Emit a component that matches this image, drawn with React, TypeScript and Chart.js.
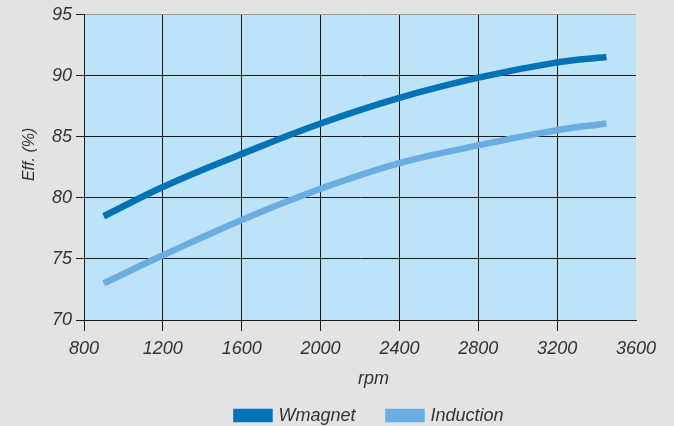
import React, { useEffect, useRef } from 'react';
import { Chart, registerables } from 'chart.js';

Chart.register(...registerables);

// ---- data ----
const rpm = [900, 1200, 1600, 2000, 2400, 2800, 3200, 3450];
const wmagnet = [78.5, 80.9, 83.6, 86.1, 88.2, 89.85, 91.1, 91.55];
const induction = [73.0, 75.3, 78.2, 80.75, 82.85, 84.3, 85.55, 86.1];
const seriesNames = ['Wmagnet', 'Induction'];
const xTitle = 'rpm';
const yTitle = 'Eff. (%)';
const xRange = [800, 3600];
const xStep = 400;
const yRange = [70, 95];
const yStep = 5;

const FONT = "'Liberation Sans', Arial, Helvetica, sans-serif";
const TEXT = '#333333';
const GRID = '#1a1a1a';

Chart.defaults.font.family = FONT;
Chart.defaults.font.style = 'italic';
Chart.defaults.font.size = 18;
Chart.defaults.color = TEXT;

// where the legend row and the x title sit (px)
const LEGEND_ROW_TOP = 406.5;
const LEGEND_SHIFT_X = 52;
const XTITLE_MID = 379;
const XTITLE_SHIFT_X = 13.5;
const YTITLE_SHIFT_Y = -13;

const decorPlugin = {
  id: 'decor',
  beforeDraw(chart: any) {
    const ctx = chart.ctx;
    const wrap = (obj: any, name: string, getShift: () => [number, number]) => {
      if (!obj || obj['__wrapped_' + name]) return;
      const orig = obj[name];
      obj[name] = function (...args: any[]) {
        const [dx, dy] = getShift();
        ctx.save();
        ctx.translate(dx, dy);
        orig.apply(this, args);
        ctx.restore();
      };
      obj['__wrapped_' + name] = true;
    };
    wrap(chart.legend, 'draw', () => {
      const lg = chart.legend;
      return [LEGEND_SHIFT_X, LEGEND_ROW_TOP - (lg.top + lg.options.labels.padding)];
    });
    wrap(chart.scales.x, 'drawTitle', () => {
      const s = chart.scales.x;
      return [XTITLE_SHIFT_X, XTITLE_MID - (s.bottom - 10.8)];
    });
    wrap(chart.scales.y, 'drawTitle', () => [0, YTITLE_SHIFT_Y]);

    const { left, top, right, bottom } = chart.chartArea;
    ctx.save();
    ctx.fillStyle = '#e3e3e3';
    ctx.fillRect(0, 0, chart.width, chart.height);
    ctx.fillStyle = '#bde3f8';
    ctx.fillRect(left, top, right - left, bottom - top);
    ctx.restore();
  },
};

const tickFont = { family: FONT, size: 18, style: 'italic' as const, weight: 'normal' as const };

export default function App() {
  const ref = useRef<HTMLCanvasElement | null>(null);

  useEffect(() => {
    document.body.style.margin = '0';
    document.body.style.background = '#e3e3e3';
    if (!ref.current) return;
    const chart = new Chart(ref.current, {
      type: 'line',
      data: {
        datasets: [
          {
            label: seriesNames[0],
            data: rpm.map((x, i) => ({ x, y: wmagnet[i] })),
            borderColor: '#0073b6',
            backgroundColor: '#0073b6',
            borderWidth: 6.5,
            pointRadius: 0,
            tension: 0.4,
            fill: false,
          },
          {
            label: seriesNames[1],
            data: rpm.map((x, i) => ({ x, y: induction[i] })),
            borderColor: '#6aade0',
            backgroundColor: '#6aade0',
            borderWidth: 6.5,
            pointRadius: 0,
            tension: 0.4,
            fill: false,
          },
        ],
      },
      options: {
        animation: false,
        responsive: true,
        maintainAspectRatio: false,
        layout: { padding: { left: 0, right: 38, top: 14, bottom: 0 } },
        plugins: {
          tooltip: { enabled: false },
          legend: {
            position: 'bottom',
            labels: {
              boxWidth: 33,
              boxHeight: 7,
              padding: 33,
              color: TEXT,
              font: { family: FONT, size: 18, style: 'italic' },
            },
          },
        },
        scales: {
          x: {
            type: 'linear',
            min: xRange[0],
            max: xRange[1],
            afterFit: (s: any) => {
              s.height = s.chart.height - s.chart.legend.height - 320;
            },
            ticks: {
              stepSize: xStep,
              maxRotation: 0,
              autoSkip: false,
              padding: 7,
              color: TEXT,
              callback: (v: any) => String(v),
              font: () => tickFont,
            },
            grid: {
              color: (c: any) => (c.tick && c.tick.value === xRange[1] ? 'rgba(0,0,0,0)' : GRID),
              tickColor: (c: any) => (c.tick && c.tick.value === xRange[1] ? 'rgba(0,0,0,0)' : GRID),
              tickLength: 11,
              lineWidth: 1,
            },
            border: { color: GRID, width: 1 },
            title: {
              display: true,
              text: xTitle,
              color: TEXT,
              padding: 0,
              font: { family: FONT, size: 18, style: 'italic' },
            },
          },
          y: {
            type: 'linear',
            min: yRange[0],
            max: yRange[1],
            afterFit: (s: any) => {
              s.width = 84;
            },
            ticks: {
              stepSize: yStep,
              padding: 4,
              color: TEXT,
              callback: (v: any) => String(v),
              font: () => tickFont,
            },
            grid: {
              color: (c: any) => (c.tick && c.tick.value === yRange[1] ? '#9a9a9a' : GRID),
              tickColor: GRID,
              tickLength: 8,
              lineWidth: 1,
            },
            border: { color: GRID, width: 1 },
            title: {
              display: true,
              text: yTitle,
              color: TEXT,
              padding: { top: 20, bottom: 0 },
              font: { family: FONT, size: 16, style: 'italic' },
            },
          },
        },
      },
      plugins: [decorPlugin],
    } as any);
    return () => chart.destroy();
  }, []);

  return (
    <div style={{ width: 674, height: 426, position: 'relative', background: '#e3e3e3' }}>
      <canvas ref={ref} />
    </div>
  );
}
